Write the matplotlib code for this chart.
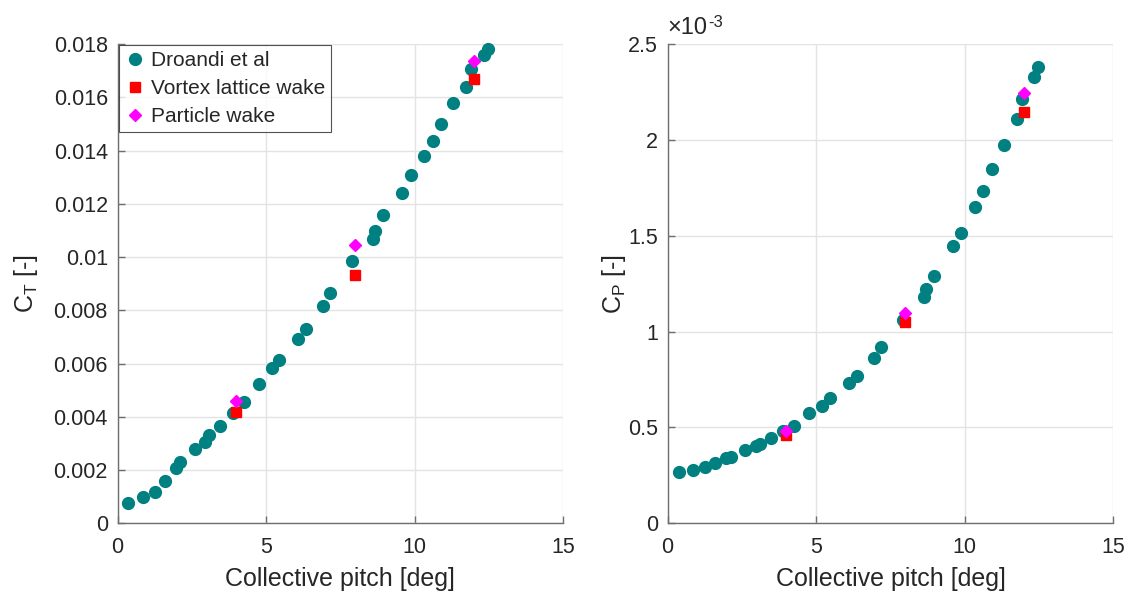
import matplotlib
matplotlib.use("Agg")
import matplotlib.pyplot as plt
from matplotlib.ticker import FuncFormatter

plt.rcParams['font.family'] = ['Liberation Sans', 'DejaVu Sans']
plt.rcParams['mathtext.fontset'] = 'custom'
plt.rcParams['mathtext.rm'] = 'Liberation Sans'
plt.rcParams['mathtext.it'] = 'Liberation Sans'

# Droandi et al. reference data
droandi_pitch_ct = [0.36, 0.84, 1.25, 1.60, 1.96, 2.11, 2.61, 2.95, 3.09, 3.46, 3.88,
                    4.26, 4.76, 5.19, 5.44, 6.08, 6.35, 6.91, 7.15, 7.89, 8.60, 8.66,
                    8.92, 9.57, 9.86, 10.32, 10.62, 10.90, 11.30, 11.74, 11.90, 12.32, 12.47]
droandi_ct = [0.00075, 0.00100, 0.00117, 0.00160, 0.00209, 0.00229, 0.00279, 0.00305,
              0.00332, 0.00366, 0.00415, 0.00456, 0.00525, 0.00584, 0.00615, 0.00693,
              0.00729, 0.00815, 0.00864, 0.00985, 0.01066, 0.01096, 0.01159, 0.01241,
              0.01307, 0.01379, 0.01436, 0.01501, 0.01578, 0.01637, 0.01708, 0.01760, 0.01780]

droandi_pitch_cp = [0.38, 0.84, 1.26, 1.61, 1.97, 2.13, 2.62, 2.96, 3.10, 3.47, 3.89,
                    4.27, 4.77, 5.20, 5.47, 6.11, 6.38, 6.94, 7.18, 7.92, 8.63, 8.69,
                    8.95, 9.60, 9.87, 10.33, 10.62, 10.93, 11.31, 11.77, 11.93, 12.33, 12.46]
droandi_cp = [0.269e-3, 0.278e-3, 0.294e-3, 0.316e-3, 0.341e-3, 0.344e-3, 0.383e-3,
              0.405e-3, 0.412e-3, 0.445e-3, 0.483e-3, 0.509e-3, 0.577e-3, 0.612e-3,
              0.656e-3, 0.734e-3, 0.770e-3, 0.861e-3, 0.920e-3, 1.061e-3, 1.180e-3,
              1.221e-3, 1.292e-3, 1.444e-3, 1.515e-3, 1.649e-3, 1.736e-3, 1.849e-3,
              1.971e-3, 2.109e-3, 2.213e-3, 2.326e-3, 2.378e-3]

# panel method results
sim_pitch = [4, 8, 12]
vlm_ct = [0.00418, 0.00932, 0.01667]
particle_ct = [0.00460, 0.01045, 0.01736]
vlm_cp = [0.461e-3, 1.051e-3, 2.147e-3]
particle_cp = [0.483e-3, 1.098e-3, 2.247e-3]

teal = '#008080'
text_col = '#262626'
axis_col = '#6e6e6e'

fig = plt.figure(figsize=(11.28, 5.92), dpi=100)
ax1 = fig.add_axes([0.1042, 0.116, 0.3952, 0.8096])
ax2 = fig.add_axes([0.5918, 0.116, 0.3952, 0.8096])


def style(ax):
    ax.set_xlim(0, 15)
    ax.set_xticks([0, 5, 10, 15])
    ax.grid(True, color='#e3e3e3', linewidth=1.0)
    ax.set_axisbelow(True)
    for s in ['top', 'right']:
        ax.spines[s].set_visible(False)
    for s in ['left', 'bottom']:
        ax.spines[s].set_color(axis_col)
        ax.spines[s].set_linewidth(1.0)
    ax.tick_params(direction='in', length=5, width=1.0, color=axis_col,
                   labelsize=15.5, labelcolor=text_col)
    ax.tick_params(axis='x', pad=10)
    ax.tick_params(axis='y', pad=7)
    ax.set_xlabel('Collective pitch [deg]', fontsize=18, color=text_col, labelpad=6)


# thrust coefficient
ax1.plot(droandi_pitch_ct, droandi_ct, 'o', color=teal, markersize=8.5,
         label='Droandi et al', clip_on=False)
ax1.plot(sim_pitch, vlm_ct, 's', color='red', markersize=7.5, label='Vortex lattice wake')
ax1.plot(sim_pitch, particle_ct, 'D', color='magenta', markersize=6,
         label='Particle wake')
style(ax1)
ax1.set_ylim(0, 0.018)
ax1.set_yticks([0, 0.002, 0.004, 0.006, 0.008, 0.01, 0.012, 0.014, 0.016, 0.018])
ax1.yaxis.set_major_formatter(FuncFormatter(lambda v, p: '%g' % round(v, 4)))
ax1.set_ylabel('C$_\\mathregular{T}$ [-]', fontsize=18, color=text_col, labelpad=10)
leg = ax1.legend(loc='upper left', fontsize=15, frameon=True, fancybox=False,
                 borderpad=0.3, handletextpad=0.25, labelspacing=0.42,
                 handlelength=1.0, borderaxespad=0.05)
leg.get_frame().set_edgecolor('#262626')
leg.get_frame().set_linewidth(0.8)
for t in leg.get_texts():
    t.set_color(text_col)

# power coefficient
ax2.plot(droandi_pitch_cp, droandi_cp, 'o', color=teal, markersize=8.5, clip_on=False)
ax2.plot(sim_pitch, vlm_cp, 's', color='red', markersize=7.5)
ax2.plot(sim_pitch, particle_cp, 'D', color='magenta', markersize=6)
style(ax2)
ax2.set_ylim(0, 2.5e-3)
ax2.set_yticks([0, 0.5e-3, 1e-3, 1.5e-3, 2e-3, 2.5e-3])
ax2.yaxis.set_major_formatter(FuncFormatter(lambda v, p: '%g' % round(v * 1e3, 3)))
ax2.set_ylabel('C$_\\mathregular{P}$ [-]', fontsize=18, color=text_col, labelpad=0)
ax2.text(0.0, 1.01, '\u00d710', transform=ax2.transAxes,
         fontsize=17, color=text_col, ha='left', va='bottom')
ax2.text(0.091, 1.03, '-3', transform=ax2.transAxes,
         fontsize=12, color=text_col, ha='left', va='bottom')

fig.savefig('out.png', dpi=100)
